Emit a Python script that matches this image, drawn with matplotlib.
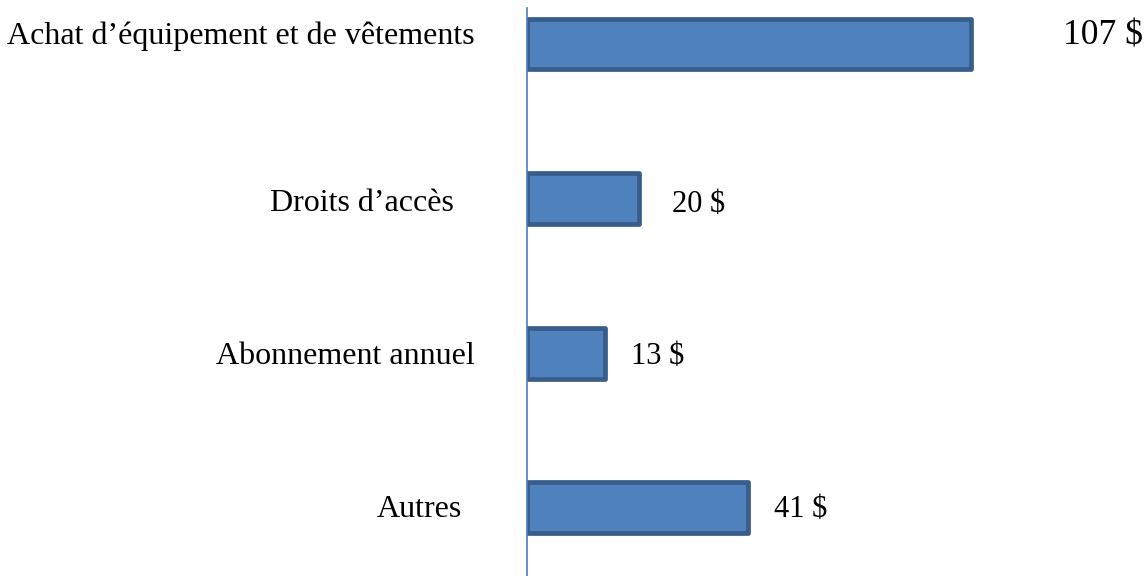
import matplotlib.pyplot as plt

# Data
categories = ["Achat d\u2019équipement et de vêtements", "Droits d\u2019accès",
              "Abonnement annuel", "Autres"]
values = [107, 20, 13, 41]                  # amounts printed next to the bars ($)
bar_lengths = [107, 26.9, 18.7, 53.4]       # bar lengths as drawn in the picture

# Layout (pixels): category label (dx, dy) from the axis, value label (dx, dy) from bar end
cat_offsets = [(-52, 0), (-73, -12.5), (-52, -11), (-65, -9.5)]
val_offsets = [(92, 0), (33, -13.5), (26, -11), (26, -9.5)]
val_sizes = [25.6, 22, 22, 22]

plt.rcParams['font.family'] = ['Liberation Serif', 'DejaVu Serif']

fig = plt.figure(figsize=(11.48, 5.76), dpi=100)
ax = fig.add_axes([527 / 1148, 0, 621 / 1148, 1 - 8 / 576])

ypos = list(range(len(categories)))
ax.barh(ypos, bar_lengths, height=0.33, color='#4F81BD', edgecolor='#385D8A',
        linewidth=3.4, joinstyle='round')

ax.set_xlim(0, 621 / 4.146)
ax.set_ylim(3.443, -0.233)

for i, (cat, val) in enumerate(zip(categories, values)):
    ax.annotate(cat, xy=(0, i), xycoords=('axes fraction', 'data'),
                xytext=cat_offsets[i], textcoords='offset pixels',
                ha='right', va='baseline', fontsize=23, color='black')
    ax.annotate(f"{val} $", xy=(bar_lengths[i], i),
                xytext=val_offsets[i], textcoords='offset pixels',
                ha='left', va='baseline', fontsize=val_sizes[i], color='black')

for side in ['top', 'right', 'bottom']:
    ax.spines[side].set_visible(False)
ax.spines['left'].set_color('#4A7EBB')
ax.spines['left'].set_linewidth(1.2)
ax.set_xticks([])
ax.set_yticks([])

fig.savefig('out.png', dpi=100)
